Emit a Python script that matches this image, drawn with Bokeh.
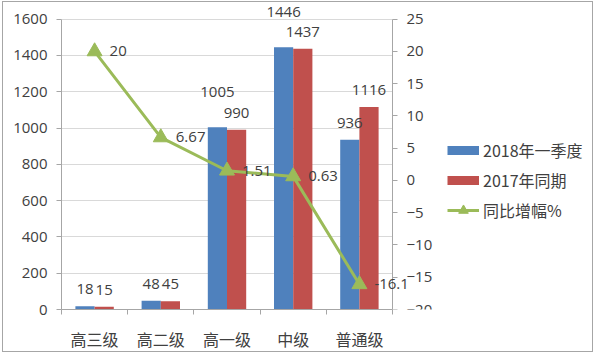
from bokeh.plotting import figure
from bokeh.models import (Range1d, LinearAxis, FixedTicker, ColumnDataSource, Legend,
                          LegendItem, LabelSet, Grid)
from bokeh.core.properties import value
from bokeh.embed import file_html
from bokeh.resources import INLINE

categories = ["高三级", "高二级", "高一级", "中级", "普通级"]
q1_2018 = [18, 48, 1005, 1446, 936]
same_2017 = [15, 45, 990, 1437, 1116]
yoy_pct = [20, 6.67, 1.51, 0.63, -16.1]
left_ticks = list(range(0, 1601, 200))
right_ticks = list(range(-20, 26, 5))
series_names = ["2018年一季度", "2017年同期", "同比增幅%"]

BLUE = "#4F81BD"
RED = "#C0504D"
GREEN = "#9BBB59"
TXT = "#404040"
GRID = "#D9D9D9"
AX = "#A6A6A6"
NUM_FONT = "Open Sans"
CJK_FONT = "Noto Sans CJK SC"

n = len(categories)
centers = [i + 0.5 for i in range(n)]
bw = 0.29

# layout geometry (pixels)
W, H = 591, 351
border_l, border_t, border_b = 58, 3, 37
axis_px, extra_px = 297, 14          # value-axis height, and extra frame room above it
cat_px = 331                          # width taken by the categories
frame_w = W - border_l
xscale = frame_w / cat_px
scale = (axis_px + extra_px) / axis_px
l0, l1 = left_ticks[0], left_ticks[-1]
r0, r1 = right_ticks[0], right_ticks[-1]

p = figure(width=W, height=H, x_range=Range1d(0, n * xscale),
           y_range=Range1d(l0, l0 + (l1 - l0) * scale),
           output_backend="svg", toolbar_location=None,
           min_border_left=border_l, min_border_right=0, min_border_top=border_t,
           min_border_bottom=border_b,
           styles={"border": "1px solid #A6A6A6", "margin-left": "2px", "margin-top": "1px"})
p.outline_line_color = None
p.background_fill_color = "white"
p.border_fill_color = "white"
p.extra_y_ranges = {"pct": Range1d(r0, r0 + (r1 - r0) * scale)}

p.xaxis.ticker = FixedTicker(ticks=centers, minor_ticks=list(range(n + 1)))
p.xaxis.major_label_overrides = {c: lab for c, lab in zip(centers, categories)}
p.xaxis.bounds = (0, n)
p.xaxis.major_tick_out = 0
p.xaxis.major_tick_in = 0
p.xaxis.minor_tick_out = 5
p.xaxis.minor_tick_in = 0
p.xaxis.major_label_standoff = 12
p.xaxis.major_label_text_font = CJK_FONT
p.xaxis.major_label_text_font_size = "16px"

p.yaxis.ticker = FixedTicker(ticks=left_ticks)
p.yaxis.bounds = (l0, l1)
p.yaxis.major_tick_out = 5
p.yaxis.major_tick_in = 0
p.yaxis.major_label_standoff = 9
p.yaxis.major_label_text_font = NUM_FONT
p.yaxis.major_label_text_font_size = "15px"

ra = LinearAxis(y_range_name="pct", ticker=FixedTicker(ticks=right_ticks), bounds=(r0, r1),
                fixed_location=n)
ra.major_tick_out = 5
ra.major_tick_in = 0
ra.major_label_standoff = 9
ra.major_label_text_font = NUM_FONT
ra.major_label_text_font_size = "15px"
p.add_layout(ra, "right")

for ax in [p.xaxis[0], p.yaxis[0], ra]:
    ax.axis_line_color = AX
    ax.major_tick_line_color = AX
    ax.minor_tick_line_color = AX if ax is p.xaxis[0] else None
    ax.major_label_text_color = TXT

p.xgrid.grid_line_color = None
if "cross_bounds" in Grid.properties():
    p.ygrid.ticker = FixedTicker(ticks=left_ticks)
    p.ygrid.grid_line_color = GRID
    p.ygrid.cross_bounds = (0, n)
else:
    p.ygrid.grid_line_color = None
    p.segment(x0=[0] * len(left_ticks), x1=[n] * len(left_ticks), y0=left_ticks, y1=left_ticks,
              line_color=GRID, level="underlay")

src = ColumnDataSource(dict(
    cat=categories,
    xb=[c - bw / 2 for c in centers],
    xr=[c + bw / 2 for c in centers],
    b=q1_2018, r=same_2017, pct=yoy_pct, xc=centers,
    bl=[str(v) for v in q1_2018], rl=[str(v) for v in same_2017],
    pl=[str(v) for v in yoy_pct],
    boff=[35 if abs(b - r) < 100 and b > 500 else 17 for b, r in zip(q1_2018, same_2017)],
))
p.vbar(x="xb", top="b", width=bw, bottom=0, source=src, fill_color=BLUE, line_color=None)
p.vbar(x="xr", top="r", width=bw, bottom=0, source=src, fill_color=RED, line_color=None)

p.line(x="xc", y="pct", source=src, y_range_name="pct", line_color=GREEN, line_width=3)
p.scatter(x="xc", y="pct", source=src, y_range_name="pct", marker="triangle", size=15,
          fill_color=GREEN, line_color=GREEN)

common = dict(source=src, text_font=value(NUM_FONT), text_font_size="15px", text_color=TXT,
              text_baseline="middle")
p.add_layout(LabelSet(x="xb", y="b", text="bl", y_offset="boff", text_align="center", **common))
p.add_layout(LabelSet(x="xr", y="r", text="rl", y_offset=17, text_align="center", **common))
p.add_layout(LabelSet(x="xc", y="pct", text="pl", y_range_name="pct", x_offset=15,
                      text_align="left", **common))

# legend proxies: real data placed on a hidden range so they draw nothing in the plot
p.extra_y_ranges["hidden"] = Range1d(-2, -1)
lb = p.line(x="xc", y="b", source=src, y_range_name="hidden", line_color=BLUE, line_width=9, line_cap="butt")
lr = p.line(x="xc", y="r", source=src, y_range_name="hidden", line_color=RED, line_width=9, line_cap="butt")
lg = p.line(x="xc", y="b", source=src, y_range_name="hidden", line_color=GREEN, line_width=3)
lm = p.scatter(x="xc", y="b", source=src, y_range_name="hidden", marker="triangle", size=12,
               fill_color=GREEN, line_color=GREEN)
legend = Legend(items=[LegendItem(label=series_names[0], renderers=[lb]),
                       LegendItem(label=series_names[1], renderers=[lr]),
                       LegendItem(label=series_names[2], renderers=[lg, lm])],
                location=(381, 82), orientation="vertical",
                glyph_width=32, glyph_height=24, label_height=24, spacing=6,
                padding=5, margin=0, label_standoff=4,
                label_text_font=CJK_FONT, label_text_font_size="16px", label_text_color=TXT,
                background_fill_alpha=0, border_line_alpha=0)
p.add_layout(legend, "center")

open("out.html", "w").write(file_html(p, INLINE))
